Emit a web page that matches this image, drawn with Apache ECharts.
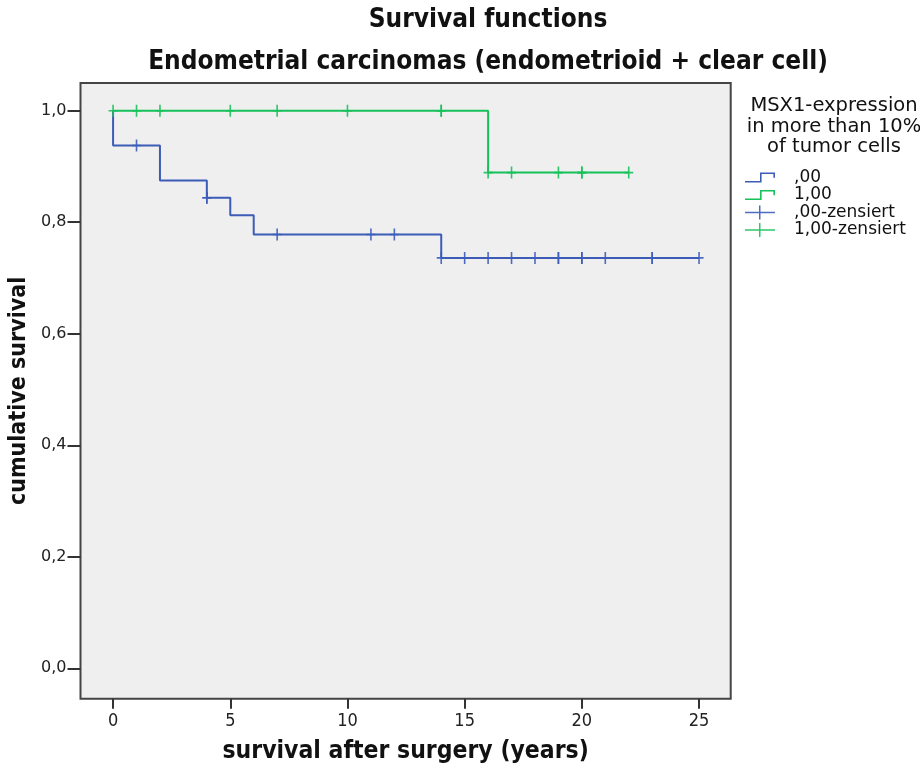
<!DOCTYPE html>
<html>
<head>
<meta charset="utf-8">
<script src="https://cdn.jsdelivr.net/npm/echarts@6/dist/echarts.min.js"></script>
<style>html,body{margin:0;padding:0;background:#fff}#c{width:920px;height:773px}</style>
</head>
<body>
<div id="c"></div>
<script>
// Kaplan-Meier step data: group ",00"
const blueTimes = [0, 0, 2, 4, 5, 6, 14, 25];
const blueSurv  = [1.0, 0.9375, 0.875, 0.844, 0.8125, 0.778, 0.736, 0.736];
// group "1,00"
const greenTimes = [0, 16, 22];
const greenSurv  = [1.0, 0.889, 0.889];
// censored observations (times)
const blueCensor  = [1, 4, 4, 7, 11, 12, 14, 15, 16, 17, 18, 19, 19, 20, 20, 21, 23, 23, 25];
const greenCensor = [0, 1, 2, 5, 7, 10, 14, 14, 16, 17, 19, 20, 20, 22];
const xTicks = [0, 5, 10, 15, 20, 25];
const yTicks = [0, 0.2, 0.4, 0.6, 0.8, 1.0];
const seriesNames = [',00', '1,00', ',00-zensiert', '1,00-zensiert'];
const legendTitle = 'MSX1-expression\nin more than 10%\nof tumor cells';
const chartTitle = 'Survival functions';
const chartSubtitle = 'Endometrial carcinomas (endometrioid + clear cell)';
const xName = 'survival after surgery (years)';
const yName = 'cumulative survival';

const BLUE = '#3d5cb8', GREEN = '#16c15a';
function survAt(times, surv, t) {
  let v = surv[0];
  for (let i = 0; i < times.length; i++) if (times[i] <= t) v = surv[i];
  return v;
}
const pairs = (a, b) => a.map((t, i) => [t, b[i]]);
const plus = 'path://M-0.8,-6H0.8V6H-0.8Z M-4.5,-0.8H4.5V0.8H-4.5Z';
const stepIcon = 'path://M0,9H14V1H28V6H26.5V2.5H15.5V10.5H0Z';
const plusIcon = 'path://M14,0H15.5V14H14Z M0,6.25H30V7.75H0Z';
const fmt = v => v.toFixed(1).replace('.', ',');

const chart = echarts.init(document.getElementById('c'), null, {renderer: 'canvas'});
chart.setOption({
  animation: false,
  backgroundColor: '#ffffff',
  title: [
    {text: chartTitle, left: 483, textAlign: 'center', top: 2,
     textStyle: {fontFamily: 'DejaVu Sans Condensed', fontWeight: 'bold', fontSize: 26, color: '#111'}},
    {text: chartSubtitle, left: 483, textAlign: 'center', top: 44,
     textStyle: {fontFamily: 'DejaVu Sans Condensed', fontWeight: 'bold', fontSize: 26, color: '#111'}},
    {text: legendTitle, left: 829, textAlign: 'center', top: 91,
     textStyle: {fontFamily: 'DejaVu Sans', fontWeight: 'normal', fontSize: 19.5, lineHeight: 20.5, color: '#111'}}
  ],
  legend: {
    orient: 'vertical', left: 740, top: 164, itemGap: 0.5, itemWidth: 30, itemHeight: 14,
    textStyle: {fontFamily: 'DejaVu Sans', fontSize: 17, lineHeight: 17, color: '#111', padding: [0, 0, 0, 14]},
    data: [
      {name: seriesNames[0], icon: stepIcon},
      {name: seriesNames[1], icon: stepIcon},
      {name: seriesNames[2], icon: plusIcon},
      {name: seriesNames[3], icon: plusIcon}
    ]
  },
  grid: {left: 80.5, right: 189.3, top: 83, bottom: 74.3, show: true, outerBoundsMode: 'none',
         containLabel: false,
         backgroundColor: '#efefef', borderColor: '#444', borderWidth: 2},
  xAxis: {
    type: 'value', min: -1.39, max: 26.35,
    name: xName, nameLocation: 'middle', nameGap: 40,
    nameTextStyle: {fontFamily: 'DejaVu Sans Condensed', fontWeight: 'bold', fontSize: 24.5, color: '#111'},
    axisLine: {show: false, onZero: false},
    axisTick: {show: true, customValues: xTicks, length: 10, lineStyle: {color: '#333', width: 2}},
    axisLabel: {customValues: xTicks, formatter: v => String(v), margin: 14,
      fontFamily: 'DejaVu Sans Condensed', fontSize: 18, color: '#222'},
    splitLine: {show: false}
  },
  yAxis: {
    type: 'value', min: -0.0545, max: 1.0497,
    name: yName, nameLocation: 'middle', nameGap: 48, nameRotate: 90,
    nameTextStyle: {fontFamily: 'DejaVu Sans Condensed', fontWeight: 'bold', fontSize: 23, color: '#111'},
    axisLine: {show: false, onZero: false},
    axisTick: {show: true, customValues: yTicks, length: 13, lineStyle: {color: '#333', width: 2}},
    axisLabel: {customValues: yTicks, formatter: fmt, margin: 14,
      fontFamily: 'DejaVu Sans', fontSize: 16, color: '#222'},
    splitLine: {show: false}
  },
  series: [
    {name: seriesNames[0], type: 'line', step: 'end', showSymbol: false, symbol: 'none',
     data: pairs(blueTimes, blueSurv), color: BLUE, lineStyle: {color: BLUE, width: 2}, z: 2},
    {name: seriesNames[1], type: 'line', step: 'end', showSymbol: false, symbol: 'none',
     data: pairs(greenTimes, greenSurv), color: GREEN, lineStyle: {color: GREEN, width: 2}, z: 2},
    {name: seriesNames[2], type: 'scatter', symbol: plus, symbolSize: [9, 12],
     data: blueCensor.map(t => [t, survAt(blueTimes, blueSurv, t)]), color: BLUE,
     itemStyle: {color: BLUE, opacity: 0.9}, z: 3},
    {name: seriesNames[3], type: 'scatter', symbol: plus, symbolSize: [9, 12],
     data: greenCensor.map(t => [t, survAt(greenTimes, greenSurv, t)]), color: GREEN,
     itemStyle: {color: GREEN, opacity: 0.9}, z: 3}
  ]
});
</script>
</body>
</html>
